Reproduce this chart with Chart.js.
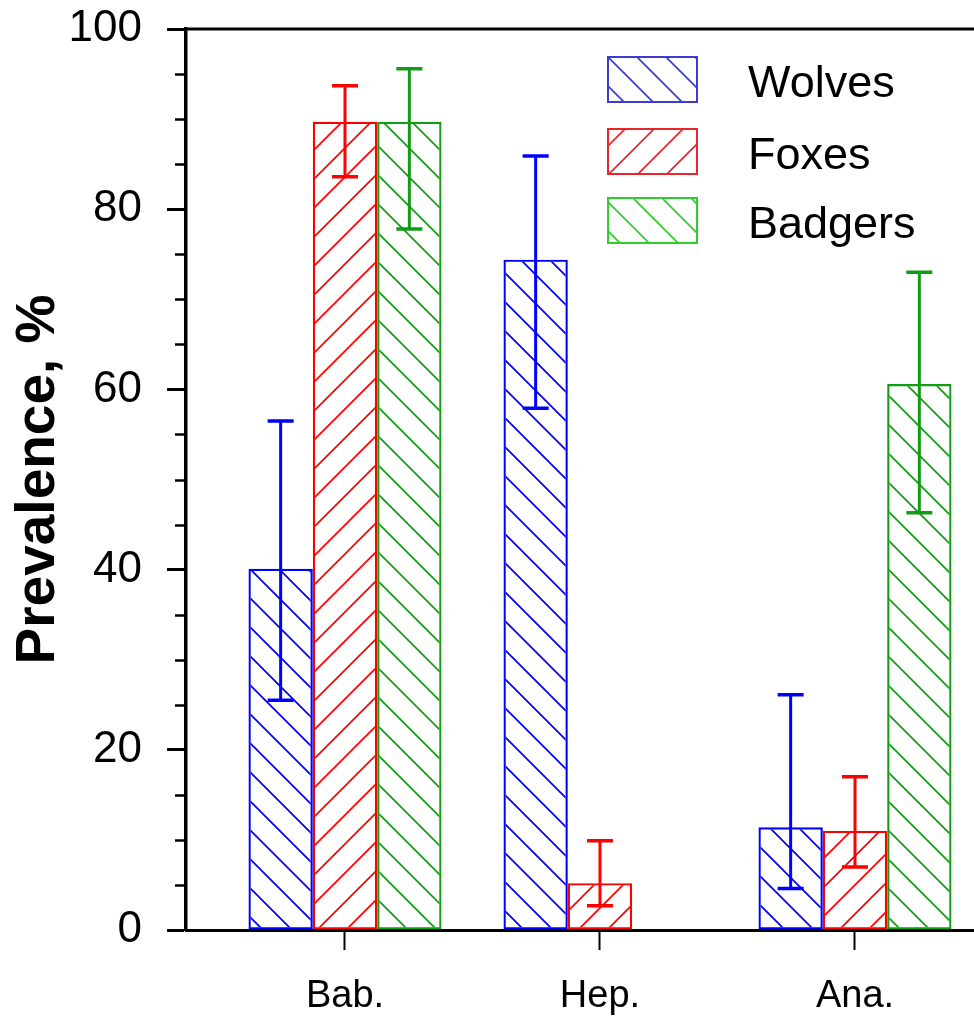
<!DOCTYPE html>
<html><head><meta charset="utf-8">
<script src="https://cdn.jsdelivr.net/npm/chart.js@4/dist/chart.umd.min.js"></script>
<style>html,body{margin:0;padding:0;background:#fff}canvas{display:block}</style>
</head><body>
<canvas id="c" width="974" height="1018"></canvas>
<script>
const categories = ['Bab.', 'Hep.', 'Ana.'];
const seriesNames = ['Wolves', 'Foxes', 'Badgers'];
const wolves      = [40.1, 74.4, 11.4];
const wolvesLow   = [25.5, 57.9, 4.6];
const wolvesHigh  = [56.5, 85.9, 26.1];
const foxes       = [89.7, 5.2, 11.0];
const foxesLow    = [83.6, 2.7, 7.0];
const foxesHigh   = [93.7, 9.9, 17.0];
const badgers     = [89.7, null, 60.6];
const badgersLow  = [77.8, null, 46.3];
const badgersHigh = [95.6, null, 73.0];
const yMin = 0, yMax = 100, yStep = 20, yMinorStep = 5;
const xMin = -0.6235, xMax = 2.4667;

const barColors = ['#0000ff', '#ff0000', '#129c12'];
const legendColors = ['#3c3cd4', '#e8262e', '#2fcc2f'];
const hatchDirs = ['\\', '/', '\\'];

const canvas = document.getElementById('c');
const ctx = canvas.getContext('2d');

function hatch(color, dir, lw) {
  const s = 29;
  const t = document.createElement('canvas'); t.width = s; t.height = s;
  const g = t.getContext('2d');
  g.strokeStyle = color; g.lineWidth = lw;
  g.beginPath();
  for (let k = -1; k <= 1; k++) {
    if (dir === '\\') { g.moveTo(k * s - 2, -2); g.lineTo(k * s + s + 2, s + 2); }
    else { g.moveTo(k * s - 2, s + 2); g.lineTo(k * s + s + 2, -2); }
  }
  g.stroke();
  return ctx.createPattern(t, 'repeat');
}

const values = [wolves, foxes, badgers];
const lows = [wolvesLow, foxesLow, badgersLow];
const highs = [wolvesHigh, foxesHigh, badgersHigh];

const datasets = seriesNames.map((name, d) => ({
  label: name,
  data: values[d].map((v, i) => ({ x: i, y: v })),
  errLow: lows[d],
  errHigh: highs[d],
  backgroundColor: hatch(barColors[d], hatchDirs[d], 1.7),
  borderColor: barColors[d],
  borderWidth: 2.2,
  borderSkipped: false,
  categoryPercentage: 0.757,
  barPercentage: 1.0
}));

const FONT = "'Liberation Sans', Arial, sans-serif";

const extras = {
  id: 'extras',
  afterDraw(chart) {
    const c = chart.ctx, a = chart.chartArea, ys = chart.scales.y;
    c.save();
    c.strokeStyle = '#000'; c.lineWidth = 3;
    c.beginPath(); c.moveTo(a.left, a.top); c.lineTo(a.right, a.top); c.stroke();
    c.lineWidth = 2.5;
    for (let v = yMin; v <= yMax; v += yMinorStep) {
      if (v % yStep === 0) continue;
      const y = Math.round(ys.getPixelForValue(v)) + 0.5;
      c.beginPath(); c.moveTo(a.left - 11, y); c.lineTo(a.left, y); c.stroke();
    }
    c.restore();
  },
  afterDatasetsDraw(chart) {
    const c = chart.ctx, ys = chart.scales.y;
    c.save();
    chart.data.datasets.forEach((ds, d) => {
      const meta = chart.getDatasetMeta(d);
      meta.data.forEach((el, i) => {
        const lo = ds.errLow[i], hi = ds.errHigh[i];
        if (lo == null || hi == null) return;
        const x = el.x, y1 = ys.getPixelForValue(hi), y2 = ys.getPixelForValue(lo);
        c.strokeStyle = ds.borderColor;
        c.lineWidth = 3;
        c.beginPath(); c.moveTo(x, y1); c.lineTo(x, y2); c.stroke();
        c.lineWidth = 3.5;
        c.beginPath();
        c.moveTo(x - 13, y1); c.lineTo(x + 13, y1);
        c.moveTo(x - 13, y2); c.lineTo(x + 13, y2);
        c.stroke();
      });
    });
    const bx = 608, bw = 89, bh = 45, tops = [57, 129, 198];
    seriesNames.forEach((name, d) => {
      const y = tops[d];
      c.fillStyle = hatch(legendColors[d], hatchDirs[d], 1.7);
      c.fillRect(bx, y, bw, bh);
      c.strokeStyle = legendColors[d]; c.lineWidth = 2;
      c.strokeRect(bx, y, bw, bh);
      c.fillStyle = '#000';
      c.font = '45px ' + FONT;
      c.textBaseline = 'alphabetic'; c.textAlign = 'left';
      c.fillText(name, 748, y + bh / 2 + 17);
    });
    c.restore();
  }
};

new Chart(ctx, {
  type: 'bar',
  data: { datasets },
  options: {
    responsive: false,
    animation: false,
    events: [],
    layout: { padding: { left: 0, top: 29, right: 0, bottom: 0 }, autoPadding: false },
    plugins: { legend: { display: false }, tooltip: { enabled: false }, title: { display: false } },
    scales: {
      x: {
        type: 'linear', min: xMin, max: xMax, offset: false,
        afterBuildTicks: s => { s.ticks = categories.map((_, i) => ({ value: i })); },
        afterFit: s => { s.height = 88; s.paddingLeft = 0; s.paddingRight = 0; },
        ticks: { callback: (v, i) => categories[i], font: { family: FONT, size: 38 }, color: '#000', padding: 24, autoSkip: false, maxRotation: 0 },
        grid: { offset: false, drawOnChartArea: false, drawTicks: true, tickLength: 20, tickWidth: 2, tickColor: '#000' },
        border: { display: true, color: '#000', width: 3 }
      },
      y: {
        min: yMin, max: yMax,
        afterFit: s => { s.width = 186; s.paddingTop = 0; s.paddingBottom = 0; },
        ticks: { stepSize: yStep, font: { family: FONT, size: 44 }, color: '#000', padding: 25 },
        grid: { drawOnChartArea: false, drawTicks: true, tickLength: 19, tickWidth: 3, tickColor: '#000' },
        border: { display: true, color: '#000', width: 3.5 },
        title: { display: true, text: 'Prevalence, %', color: '#000', font: { family: FONT, size: 55, weight: 'bold' }, padding: { top: 6, bottom: 0 } }
      }
    }
  },
  plugins: [extras]
});
</script>
</body></html>
